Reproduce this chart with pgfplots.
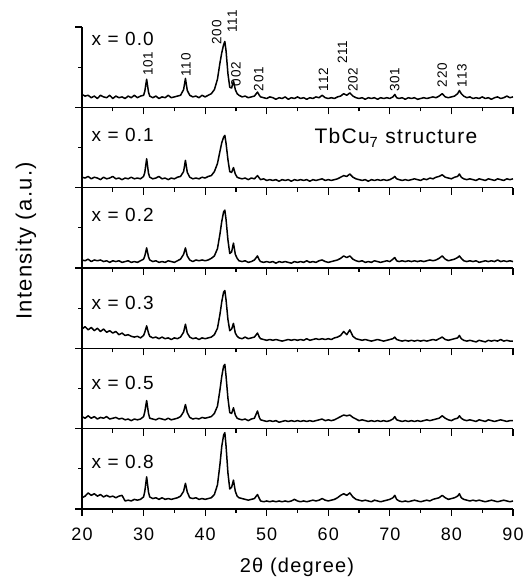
\documentclass[border=0pt]{standalone}
\usepackage{fontspec}
\setmainfont[LetterSpace=6]{Liberation Sans}
\usepackage{pgfplots}
\usepackage{pgfplotstable}
\pgfplotsset{compat=1.18}

\pgfplotsset{
  xrdpanel/.style={
    scale only axis, width=431pt, height=80.33pt,
    anchor=south west,
    xmin=20, xmax=90, ymin=0, ymax=1,
    axis x line*=bottom, axis y line*=left,
    axis line style={-, line width=1.3pt, black},
    xtick={20,30,...,90}, minor xtick={25,35,...,85},
    ytick={0,1}, minor ytick={0.5},
    xticklabels={}, yticklabels={},
    tick align=outside,
    major tick length=7pt, minor tick length=4pt,
    major tick style={line width=1.2pt, black},
    minor tick style={line width=1.2pt, black},
    clip=false,
  },
  xrdline/.style={black, line width=1.5pt, line join=round, mark=none},
}
\tikzset{
  panellabel/.style={anchor=west, font=\fontsize{19}{19}\selectfont},
  hkl/.style={rotate=90, anchor=west, inner sep=0pt, font=\fontsize{13.5}{13.5}\selectfont},
}

% x = 0.0
\pgfplotstableread[row sep=\\]{x y\\
20.0 0.16\\ 20.5 0.14\\ 21.0 0.15\\ 21.5 0.12\\ 22.0 0.14\\ 22.5 0.11\\ 23.0 0.15\\ 23.5 0.13\\ 24.0 0.12\\ 24.5 0.15\\
25.0 0.11\\ 25.5 0.14\\ 26.0 0.12\\ 26.5 0.13\\ 27.0 0.11\\ 27.5 0.14\\ 28.0 0.12\\ 28.5 0.15\\ 29.0 0.12\\ 29.5 0.14\\
30.0 0.15\\ 30.2 0.20\\ 30.5 0.35\\ 30.8 0.19\\ 31.0 0.14\\ 31.5 0.12\\ 32.0 0.14\\ 32.5 0.11\\ 33.0 0.13\\ 33.5 0.12\\
34.0 0.15\\ 34.5 0.12\\ 35.0 0.13\\ 35.5 0.14\\ 36.0 0.15\\ 36.5 0.22\\ 36.8 0.36\\ 37.1 0.21\\ 37.5 0.15\\ 38.0 0.13\\
38.5 0.14\\ 39.0 0.12\\ 39.5 0.15\\ 40.0 0.13\\ 40.5 0.15\\ 41.0 0.17\\ 41.5 0.22\\ 42.0 0.35\\ 42.4 0.55\\ 42.7 0.68\\
43.0 0.78\\ 43.2 0.82\\ 43.4 0.70\\ 43.7 0.42\\ 44.0 0.25\\ 44.3 0.24\\ 44.6 0.33\\ 44.9 0.22\\ 45.2 0.17\\ 45.5 0.15\\
46.0 0.13\\ 46.5 0.14\\ 47.0 0.12\\ 47.5 0.13\\ 48.0 0.14\\ 48.5 0.19\\ 48.8 0.15\\ 49.0 0.13\\ 49.5 0.12\\ 50.0 0.11\\
50.5 0.13\\ 51.0 0.12\\ 51.5 0.10\\ 52.0 0.12\\ 52.5 0.11\\ 53.0 0.13\\ 53.5 0.10\\ 54.0 0.12\\ 54.5 0.11\\ 55.0 0.13\\
55.5 0.11\\ 56.0 0.12\\ 56.5 0.10\\ 57.0 0.12\\ 57.5 0.11\\ 58.0 0.13\\ 58.5 0.12\\ 59.0 0.15\\ 59.5 0.12\\ 60.0 0.11\\
60.5 0.12\\ 61.0 0.11\\ 61.5 0.13\\ 62.0 0.14\\ 62.5 0.17\\ 63.0 0.15\\ 63.5 0.18\\ 64.0 0.14\\ 64.5 0.12\\ 65.0 0.11\\
65.5 0.12\\ 66.0 0.10\\ 66.5 0.12\\ 67.0 0.11\\ 67.5 0.12\\ 68.0 0.10\\ 68.5 0.12\\ 69.0 0.11\\ 69.5 0.12\\ 70.0 0.11\\
70.5 0.13\\ 70.8 0.16\\ 71.1 0.12\\ 71.5 0.11\\ 72.0 0.12\\ 72.5 0.10\\ 73.0 0.12\\ 73.5 0.11\\ 74.0 0.12\\ 74.5 0.10\\
75.0 0.11\\ 75.5 0.12\\ 76.0 0.11\\ 76.5 0.12\\ 77.0 0.13\\ 77.5 0.12\\ 78.0 0.14\\ 78.5 0.17\\ 79.0 0.13\\ 79.5 0.12\\
80.0 0.13\\ 80.5 0.14\\ 81.0 0.17\\ 81.3 0.21\\ 81.6 0.17\\ 82.0 0.14\\ 82.5 0.12\\ 83.0 0.13\\ 83.5 0.11\\ 84.0 0.12\\
84.5 0.11\\ 85.0 0.13\\ 85.5 0.11\\ 86.0 0.12\\ 86.5 0.10\\ 87.0 0.12\\ 87.5 0.13\\ 88.0 0.11\\ 88.5 0.12\\ 89.0 0.14\\
89.5 0.12\\ 90.0 0.13\\
}\dataA

% x = 0.1
\pgfplotstableread[row sep=\\]{x y\\
20.0 0.13\\ 20.5 0.12\\ 21.0 0.14\\ 21.5 0.11\\ 22.0 0.13\\ 22.5 0.12\\ 23.0 0.10\\ 23.5 0.13\\ 24.0 0.11\\ 24.5 0.12\\
25.0 0.14\\ 25.5 0.11\\ 26.0 0.12\\ 26.5 0.10\\ 27.0 0.12\\ 27.5 0.11\\ 28.0 0.13\\ 28.5 0.11\\ 29.0 0.12\\ 29.5 0.11\\
30.0 0.14\\ 30.2 0.19\\ 30.5 0.36\\ 30.8 0.18\\ 31.0 0.13\\ 31.5 0.11\\ 32.0 0.12\\ 32.5 0.14\\ 33.0 0.11\\ 33.5 0.12\\
34.0 0.10\\ 34.5 0.12\\ 35.0 0.11\\ 35.5 0.13\\ 36.0 0.14\\ 36.5 0.20\\ 36.8 0.34\\ 37.1 0.19\\ 37.5 0.13\\ 38.0 0.11\\
38.5 0.12\\ 39.0 0.11\\ 39.5 0.13\\ 40.0 0.12\\ 40.5 0.14\\ 41.0 0.15\\ 41.5 0.20\\ 42.0 0.30\\ 42.4 0.45\\ 42.7 0.56\\
43.0 0.63\\ 43.2 0.65\\ 43.4 0.55\\ 43.7 0.35\\ 44.0 0.20\\ 44.3 0.19\\ 44.6 0.25\\ 44.9 0.17\\ 45.2 0.13\\ 45.5 0.12\\
46.0 0.11\\ 46.5 0.12\\ 47.0 0.10\\ 47.5 0.12\\ 48.0 0.11\\ 48.5 0.15\\ 48.8 0.12\\ 49.0 0.10\\ 49.5 0.11\\ 50.0 0.09\\
50.5 0.10\\ 51.0 0.09\\ 51.5 0.10\\ 52.0 0.08\\ 52.5 0.10\\ 53.0 0.09\\ 53.5 0.10\\ 54.0 0.08\\ 54.5 0.10\\ 55.0 0.09\\
55.5 0.10\\ 56.0 0.09\\ 56.5 0.10\\ 57.0 0.08\\ 57.5 0.10\\ 58.0 0.09\\ 58.5 0.10\\ 59.0 0.11\\ 59.5 0.09\\ 60.0 0.10\\
60.5 0.09\\ 61.0 0.10\\ 61.5 0.11\\ 62.0 0.13\\ 62.5 0.15\\ 63.0 0.14\\ 63.5 0.17\\ 64.0 0.13\\ 64.5 0.11\\ 65.0 0.10\\
65.5 0.09\\ 66.0 0.10\\ 66.5 0.08\\ 67.0 0.10\\ 67.5 0.09\\ 68.0 0.10\\ 68.5 0.09\\ 69.0 0.10\\ 69.5 0.09\\ 70.0 0.10\\
70.5 0.12\\ 70.8 0.14\\ 71.1 0.11\\ 71.5 0.10\\ 72.0 0.09\\ 72.5 0.10\\ 73.0 0.09\\ 73.5 0.10\\ 74.0 0.11\\ 74.5 0.10\\
75.0 0.09\\ 75.5 0.11\\ 76.0 0.10\\ 76.5 0.12\\ 77.0 0.11\\ 77.5 0.13\\ 78.0 0.14\\ 78.5 0.16\\ 79.0 0.13\\ 79.5 0.12\\
80.0 0.11\\ 80.5 0.13\\ 81.0 0.14\\ 81.3 0.17\\ 81.6 0.13\\ 82.0 0.11\\ 82.5 0.10\\ 83.0 0.11\\ 83.5 0.10\\ 84.0 0.09\\
84.5 0.11\\ 85.0 0.10\\ 85.5 0.09\\ 86.0 0.11\\ 86.5 0.10\\ 87.0 0.09\\ 87.5 0.11\\ 88.0 0.10\\ 88.5 0.09\\ 89.0 0.11\\
89.5 0.10\\ 90.0 0.11\\
}\dataB

% x = 0.2
\pgfplotstableread[row sep=\\]{x y\\
20.0 0.10\\ 20.5 0.09\\ 21.0 0.11\\ 21.5 0.08\\ 22.0 0.10\\ 22.5 0.09\\ 23.0 0.10\\ 23.5 0.08\\ 24.0 0.09\\ 24.5 0.07\\
25.0 0.09\\ 25.5 0.08\\ 26.0 0.09\\ 26.5 0.07\\ 27.0 0.08\\ 27.5 0.09\\ 28.0 0.07\\ 28.5 0.08\\ 29.0 0.07\\ 29.5 0.09\\
30.0 0.11\\ 30.2 0.15\\ 30.5 0.25\\ 30.8 0.14\\ 31.0 0.10\\ 31.5 0.08\\ 32.0 0.09\\ 32.5 0.07\\ 33.0 0.08\\ 33.5 0.07\\
34.0 0.09\\ 34.5 0.08\\ 35.0 0.07\\ 35.5 0.09\\ 36.0 0.11\\ 36.5 0.17\\ 36.8 0.25\\ 37.1 0.15\\ 37.5 0.10\\ 38.0 0.08\\
38.5 0.10\\ 39.0 0.09\\ 39.5 0.10\\ 40.0 0.09\\ 40.5 0.10\\ 41.0 0.12\\ 41.5 0.15\\ 42.0 0.24\\ 42.4 0.42\\ 42.7 0.58\\
43.0 0.70\\ 43.2 0.72\\ 43.4 0.60\\ 43.7 0.35\\ 44.0 0.18\\ 44.3 0.20\\ 44.6 0.31\\ 44.9 0.17\\ 45.2 0.12\\ 45.5 0.09\\
46.0 0.08\\ 46.5 0.09\\ 47.0 0.07\\ 47.5 0.08\\ 48.0 0.10\\ 48.5 0.15\\ 48.8 0.10\\ 49.0 0.08\\ 49.5 0.07\\ 50.0 0.08\\
50.5 0.07\\ 51.0 0.08\\ 51.5 0.06\\ 52.0 0.08\\ 52.5 0.07\\ 53.0 0.08\\ 53.5 0.07\\ 54.0 0.06\\ 54.5 0.08\\ 55.0 0.07\\
55.5 0.08\\ 56.0 0.07\\ 56.5 0.09\\ 57.0 0.07\\ 57.5 0.08\\ 58.0 0.07\\ 58.5 0.09\\ 59.0 0.10\\ 59.5 0.08\\ 60.0 0.07\\
60.5 0.08\\ 61.0 0.09\\ 61.5 0.10\\ 62.0 0.12\\ 62.5 0.15\\ 63.0 0.13\\ 63.5 0.15\\ 64.0 0.11\\ 64.5 0.09\\ 65.0 0.08\\
65.5 0.09\\ 66.0 0.07\\ 66.5 0.08\\ 67.0 0.07\\ 67.5 0.09\\ 68.0 0.08\\ 68.5 0.07\\ 69.0 0.08\\ 69.5 0.09\\ 70.0 0.08\\
70.5 0.11\\ 70.8 0.13\\ 71.1 0.09\\ 71.5 0.08\\ 72.0 0.09\\ 72.5 0.08\\ 73.0 0.09\\ 73.5 0.08\\ 74.0 0.09\\ 74.5 0.08\\
75.0 0.09\\ 75.5 0.08\\ 76.0 0.09\\ 76.5 0.10\\ 77.0 0.09\\ 77.5 0.10\\ 78.0 0.12\\ 78.5 0.15\\ 79.0 0.11\\ 79.5 0.09\\
80.0 0.10\\ 80.5 0.11\\ 81.0 0.13\\ 81.3 0.15\\ 81.6 0.12\\ 82.0 0.09\\ 82.5 0.08\\ 83.0 0.09\\ 83.5 0.08\\ 84.0 0.09\\
84.5 0.07\\ 85.0 0.08\\ 85.5 0.09\\ 86.0 0.08\\ 86.5 0.09\\ 87.0 0.08\\ 87.5 0.10\\ 88.0 0.08\\ 88.5 0.09\\ 89.0 0.08\\
89.5 0.09\\ 90.0 0.08\\
}\dataC

% x = 0.3
\pgfplotstableread[row sep=\\]{x y\\
20.0 0.24\\ 20.5 0.27\\ 21.0 0.23\\ 21.5 0.26\\ 22.0 0.22\\ 22.5 0.25\\ 23.0 0.21\\ 23.5 0.24\\ 24.0 0.20\\ 24.5 0.22\\
25.0 0.19\\ 25.5 0.21\\ 26.0 0.17\\ 26.5 0.19\\ 27.0 0.16\\ 27.5 0.17\\ 28.0 0.15\\ 28.5 0.14\\ 29.0 0.15\\ 29.5 0.13\\
30.0 0.16\\ 30.2 0.20\\ 30.5 0.28\\ 30.8 0.19\\ 31.0 0.15\\ 31.5 0.13\\ 32.0 0.14\\ 32.5 0.12\\ 33.0 0.14\\ 33.5 0.12\\
34.0 0.13\\ 34.5 0.11\\ 35.0 0.13\\ 35.5 0.12\\ 36.0 0.14\\ 36.5 0.20\\ 36.8 0.30\\ 37.1 0.19\\ 37.5 0.14\\ 38.0 0.12\\
38.5 0.13\\ 39.0 0.11\\ 39.5 0.13\\ 40.0 0.12\\ 40.5 0.13\\ 41.0 0.14\\ 41.5 0.17\\ 42.0 0.25\\ 42.4 0.42\\ 42.7 0.58\\
43.0 0.70\\ 43.2 0.72\\ 43.4 0.60\\ 43.7 0.36\\ 44.0 0.22\\ 44.3 0.24\\ 44.6 0.31\\ 44.9 0.19\\ 45.2 0.15\\ 45.5 0.13\\
46.0 0.12\\ 46.5 0.14\\ 47.0 0.12\\ 47.5 0.13\\ 48.0 0.14\\ 48.5 0.19\\ 48.8 0.14\\ 49.0 0.12\\ 49.5 0.11\\ 50.0 0.10\\
50.5 0.11\\ 51.0 0.10\\ 51.5 0.11\\ 52.0 0.10\\ 52.5 0.09\\ 53.0 0.10\\ 53.5 0.11\\ 54.0 0.10\\ 54.5 0.11\\ 55.0 0.10\\
55.5 0.11\\ 56.0 0.10\\ 56.5 0.12\\ 57.0 0.10\\ 57.5 0.11\\ 58.0 0.12\\ 58.5 0.11\\ 59.0 0.12\\ 59.5 0.11\\ 60.0 0.12\\
60.5 0.11\\ 61.0 0.13\\ 61.5 0.14\\ 62.0 0.16\\ 62.5 0.21\\ 63.0 0.17\\ 63.5 0.23\\ 64.0 0.15\\ 64.5 0.12\\ 65.0 0.11\\
65.5 0.10\\ 66.0 0.11\\ 66.5 0.10\\ 67.0 0.09\\ 67.5 0.10\\ 68.0 0.11\\ 68.5 0.10\\ 69.0 0.09\\ 69.5 0.10\\ 70.0 0.11\\
70.5 0.12\\ 70.8 0.14\\ 71.1 0.11\\ 71.5 0.10\\ 72.0 0.09\\ 72.5 0.10\\ 73.0 0.09\\ 73.5 0.10\\ 74.0 0.09\\ 74.5 0.10\\
75.0 0.09\\ 75.5 0.10\\ 76.0 0.09\\ 76.5 0.10\\ 77.0 0.11\\ 77.5 0.10\\ 78.0 0.12\\ 78.5 0.14\\ 79.0 0.11\\ 79.5 0.10\\
80.0 0.11\\ 80.5 0.12\\ 81.0 0.13\\ 81.3 0.16\\ 81.6 0.12\\ 82.0 0.10\\ 82.5 0.09\\ 83.0 0.10\\ 83.5 0.09\\ 84.0 0.08\\
84.5 0.10\\ 85.0 0.09\\ 85.5 0.08\\ 86.0 0.10\\ 86.5 0.09\\ 87.0 0.10\\ 87.5 0.09\\ 88.0 0.11\\ 88.5 0.09\\ 89.0 0.10\\
89.5 0.09\\ 90.0 0.09\\
}\dataD

% x = 0.5
\pgfplotstableread[row sep=\\]{x y\\
20.0 0.15\\ 20.5 0.13\\ 21.0 0.16\\ 21.5 0.13\\ 22.0 0.15\\ 22.5 0.12\\ 23.0 0.14\\ 23.5 0.13\\ 24.0 0.15\\ 24.5 0.12\\
25.0 0.13\\ 25.5 0.14\\ 26.0 0.12\\ 26.5 0.13\\ 27.0 0.11\\ 27.5 0.12\\ 28.0 0.10\\ 28.5 0.12\\ 29.0 0.11\\ 29.5 0.12\\
30.0 0.15\\ 30.2 0.21\\ 30.5 0.35\\ 30.8 0.19\\ 31.0 0.13\\ 31.5 0.12\\ 32.0 0.11\\ 32.5 0.13\\ 33.0 0.12\\ 33.5 0.11\\
34.0 0.13\\ 34.5 0.11\\ 35.0 0.12\\ 35.5 0.13\\ 36.0 0.15\\ 36.5 0.21\\ 36.8 0.30\\ 37.1 0.20\\ 37.5 0.14\\ 38.0 0.12\\
38.5 0.13\\ 39.0 0.12\\ 39.5 0.14\\ 40.0 0.13\\ 40.5 0.14\\ 41.0 0.15\\ 41.5 0.19\\ 42.0 0.28\\ 42.4 0.48\\ 42.7 0.65\\
43.0 0.78\\ 43.2 0.80\\ 43.4 0.65\\ 43.7 0.38\\ 44.0 0.20\\ 44.3 0.19\\ 44.6 0.26\\ 44.9 0.17\\ 45.2 0.13\\ 45.5 0.12\\
46.0 0.11\\ 46.5 0.12\\ 47.0 0.10\\ 47.5 0.12\\ 48.0 0.13\\ 48.5 0.22\\ 48.8 0.14\\ 49.0 0.11\\ 49.5 0.10\\ 50.0 0.09\\
50.5 0.10\\ 51.0 0.09\\ 51.5 0.10\\ 52.0 0.08\\ 52.5 0.09\\ 53.0 0.10\\ 53.5 0.09\\ 54.0 0.10\\ 54.5 0.09\\ 55.0 0.10\\
55.5 0.09\\ 56.0 0.10\\ 56.5 0.09\\ 57.0 0.10\\ 57.5 0.09\\ 58.0 0.10\\ 58.5 0.11\\ 59.0 0.12\\ 59.5 0.10\\ 60.0 0.11\\
60.5 0.10\\ 61.0 0.11\\ 61.5 0.13\\ 62.0 0.15\\ 62.5 0.17\\ 63.0 0.16\\ 63.5 0.17\\ 64.0 0.14\\ 64.5 0.12\\ 65.0 0.10\\
65.5 0.11\\ 66.0 0.10\\ 66.5 0.09\\ 67.0 0.10\\ 67.5 0.09\\ 68.0 0.10\\ 68.5 0.09\\ 69.0 0.10\\ 69.5 0.09\\ 70.0 0.10\\
70.5 0.12\\ 70.8 0.15\\ 71.1 0.11\\ 71.5 0.10\\ 72.0 0.09\\ 72.5 0.10\\ 73.0 0.09\\ 73.5 0.10\\ 74.0 0.09\\ 74.5 0.10\\
75.0 0.09\\ 75.5 0.10\\ 76.0 0.11\\ 76.5 0.10\\ 77.0 0.11\\ 77.5 0.12\\ 78.0 0.13\\ 78.5 0.16\\ 79.0 0.13\\ 79.5 0.11\\
80.0 0.10\\ 80.5 0.12\\ 81.0 0.13\\ 81.3 0.16\\ 81.6 0.13\\ 82.0 0.11\\ 82.5 0.10\\ 83.0 0.11\\ 83.5 0.10\\ 84.0 0.09\\
84.5 0.11\\ 85.0 0.10\\ 85.5 0.09\\ 86.0 0.11\\ 86.5 0.10\\ 87.0 0.09\\ 87.5 0.10\\ 88.0 0.11\\ 88.5 0.10\\ 89.0 0.09\\
89.5 0.10\\ 90.0 0.10\\
}\dataE

% x = 0.8
\pgfplotstableread[row sep=\\]{x y\\
20.0 0.14\\ 20.5 0.16\\ 21.0 0.20\\ 21.5 0.17\\ 22.0 0.19\\ 22.5 0.16\\ 23.0 0.18\\ 23.5 0.15\\ 24.0 0.17\\ 24.5 0.15\\
25.0 0.16\\ 25.5 0.14\\ 26.0 0.16\\ 26.5 0.17\\ 27.0 0.10\\ 27.5 0.11\\ 28.0 0.10\\ 28.5 0.12\\ 29.0 0.11\\ 29.5 0.12\\
30.0 0.15\\ 30.2 0.22\\ 30.5 0.40\\ 30.8 0.21\\ 31.0 0.15\\ 31.5 0.13\\ 32.0 0.14\\ 32.5 0.12\\ 33.0 0.14\\ 33.5 0.12\\
34.0 0.13\\ 34.5 0.12\\ 35.0 0.13\\ 35.5 0.14\\ 36.0 0.16\\ 36.5 0.22\\ 36.8 0.32\\ 37.1 0.21\\ 37.5 0.14\\ 38.0 0.13\\
38.5 0.14\\ 39.0 0.12\\ 39.5 0.13\\ 40.0 0.12\\ 40.5 0.13\\ 41.0 0.14\\ 41.5 0.18\\ 42.0 0.30\\ 42.4 0.55\\ 42.7 0.78\\
43.0 0.92\\ 43.2 0.95\\ 43.4 0.78\\ 43.7 0.45\\ 44.0 0.25\\ 44.3 0.27\\ 44.6 0.36\\ 44.9 0.22\\ 45.2 0.16\\ 45.5 0.14\\
46.0 0.13\\ 46.5 0.12\\ 47.0 0.11\\ 47.5 0.12\\ 48.0 0.13\\ 48.5 0.18\\ 48.8 0.13\\ 49.0 0.10\\ 49.5 0.09\\ 50.0 0.10\\
50.5 0.09\\ 51.0 0.10\\ 51.5 0.09\\ 52.0 0.10\\ 52.5 0.09\\ 53.0 0.10\\ 53.5 0.09\\ 54.0 0.10\\ 54.5 0.12\\ 55.0 0.10\\
55.5 0.09\\ 56.0 0.10\\ 56.5 0.09\\ 57.0 0.10\\ 57.5 0.11\\ 58.0 0.10\\ 58.5 0.11\\ 59.0 0.13\\ 59.5 0.11\\ 60.0 0.10\\
60.5 0.11\\ 61.0 0.12\\ 61.5 0.14\\ 62.0 0.17\\ 62.5 0.19\\ 63.0 0.17\\ 63.5 0.20\\ 64.0 0.15\\ 64.5 0.12\\ 65.0 0.11\\
65.5 0.10\\ 66.0 0.11\\ 66.5 0.10\\ 67.0 0.09\\ 67.5 0.11\\ 68.0 0.10\\ 68.5 0.09\\ 69.0 0.10\\ 69.5 0.11\\ 70.0 0.12\\
70.5 0.14\\ 70.8 0.17\\ 71.1 0.12\\ 71.5 0.10\\ 72.0 0.09\\ 72.5 0.10\\ 73.0 0.09\\ 73.5 0.10\\ 74.0 0.11\\ 74.5 0.10\\
75.0 0.09\\ 75.5 0.10\\ 76.0 0.11\\ 76.5 0.10\\ 77.0 0.12\\ 77.5 0.13\\ 78.0 0.14\\ 78.5 0.17\\ 79.0 0.14\\ 79.5 0.12\\
80.0 0.13\\ 80.5 0.14\\ 81.0 0.16\\ 81.3 0.19\\ 81.6 0.14\\ 82.0 0.12\\ 82.5 0.11\\ 83.0 0.10\\ 83.5 0.11\\ 84.0 0.10\\
84.5 0.11\\ 85.0 0.10\\ 85.5 0.09\\ 86.0 0.10\\ 86.5 0.11\\ 87.0 0.10\\ 87.5 0.09\\ 88.0 0.10\\ 88.5 0.11\\ 89.0 0.10\\
89.5 0.09\\ 90.0 0.10\\
}\dataF

\begin{document}
\begin{tikzpicture}
\useasboundingbox (0pt,0pt) rectangle (525pt,582pt);

% bottom panel: x = 0.8, carries the tick labels
\begin{axis}[xrdpanel, at={(82pt,73pt)},
    xticklabels={20,30,40,50,60,70,80,90},
    xticklabel style={font=\fontsize{18}{18}\selectfont, yshift=-8pt},
    /pgf/number format/assume math mode=true]
  \addplot[xrdline] table {\dataF};
  \node[panellabel] at (axis cs:21,0.59) {x = 0.8};
\end{axis}

\begin{axis}[xrdpanel, at={(82pt,153.33pt)}]
  \addplot[xrdline] table {\dataE};
  \node[panellabel] at (axis cs:21,0.57) {x = 0.5};
\end{axis}

\begin{axis}[xrdpanel, at={(82pt,233.66pt)}]
  \addplot[xrdline] table {\dataD};
  \node[panellabel] at (axis cs:21,0.57) {x = 0.3};
\end{axis}

\begin{axis}[xrdpanel, at={(82pt,314pt)}]
  \addplot[xrdline] table {\dataC};
  \node[panellabel] at (axis cs:21,0.66) {x = 0.2};
\end{axis}

\begin{axis}[xrdpanel, at={(82pt,394.33pt)}]
  \addplot[xrdline] table {\dataB};
  \node[panellabel] at (axis cs:21,0.65) {x = 0.1};
  \node[anchor=west, font=\fontsize{21}{21}\selectfont] at (axis cs:57.2,0.62) {TbCu\textsubscript{7} structure};
\end{axis}

% top panel: x = 0.0 with the reflections indexed
\begin{axis}[xrdpanel, at={(82pt,474.66pt)}]
  \addplot[xrdline] table {\dataA};
  \node[panellabel] at (axis cs:21,0.85) {x = 0.0};
  \node[hkl] at (axis cs:30.7,0.39) {101};
  \node[hkl] at (axis cs:36.9,0.38) {110};
  \node[hkl] at (axis cs:41.9,0.78) {200};
  \node[hkl] at (axis cs:44.4,0.93) {111};
  \node[hkl] at (axis cs:45.0,0.26) {002};
  \node[hkl] at (axis cs:48.7,0.20) {201};
  \node[hkl] at (axis cs:59.2,0.20) {112};
  \node[hkl] at (axis cs:62.3,0.54) {211};
  \node[hkl] at (axis cs:64.0,0.19) {202};
  \node[hkl] at (axis cs:70.8,0.19) {301};
  \node[hkl] at (axis cs:78.5,0.25) {220};
  \node[hkl] at (axis cs:81.7,0.25) {113};
\end{axis}

\node[rotate=90, font=\fontsize{22}{22}\selectfont] at (26pt,341pt) {Intensity (a.u.)};
\node[font=\fontsize{20}{20}\selectfont] at (297pt,15pt) {2θ (degree)};
\end{tikzpicture}
\end{document}
